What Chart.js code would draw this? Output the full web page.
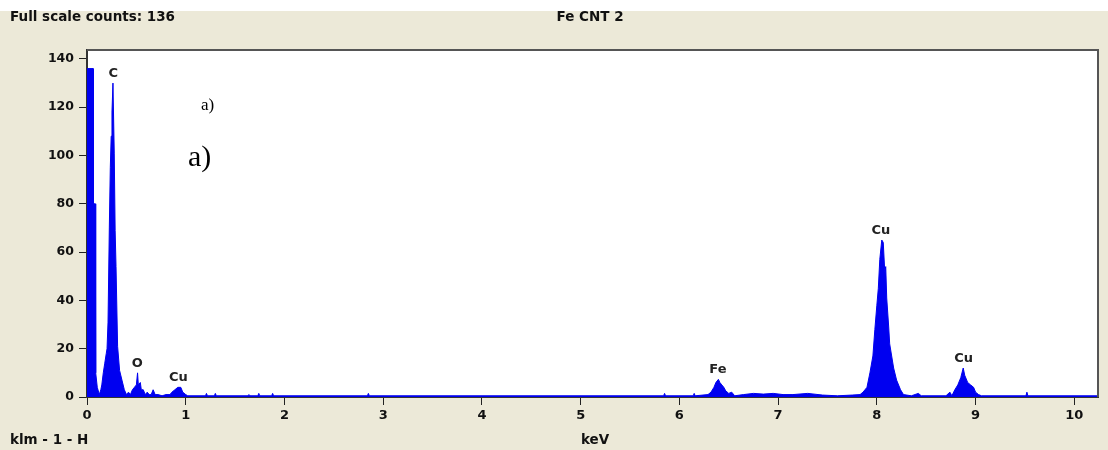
<!DOCTYPE html>
<html>
<head>
<meta charset="utf-8">
<script src="https://cdn.jsdelivr.net/npm/chart.js@4.4.0/dist/chart.umd.min.js"></script>
<style>
  html, body { margin: 0; padding: 0; background: #ece9d8; }
  canvas { display: block; }
</style>
</head>
<body>
<canvas id="eds" width="1108" height="450"></canvas>
<script>
// spectrum: energy (keV) and counts
const energies = [
  0.00, 0.061, 0.065, 0.084, 0.088, 0.104, 0.125, 0.14, 0.15, 0.165, 0.18, 0.195,
  0.203, 0.213, 0.226, 0.236, 0.245, 0.253, 0.263, 0.276, 0.285, 0.294, 0.31, 0.33,
  0.354, 0.378, 0.40, 0.42, 0.44, 0.46, 0.48, 0.50, 0.512, 0.52, 0.54, 0.55,
  0.57, 0.59, 0.61, 0.63, 0.65, 0.67, 0.69, 0.72, 0.76, 0.80, 0.84, 0.86,
  0.89, 0.92, 0.95, 0.97, 1.00, 1.02, 1.20, 1.21, 1.22, 1.29, 1.30, 1.31,
  1.63, 1.64, 1.65, 1.73, 1.74, 1.75, 1.87, 1.88, 1.89, 2.84, 2.85, 2.86,
  5.84, 5.85, 5.86, 6.14, 6.15, 6.16, 6.29, 6.32, 6.35, 6.37, 6.395, 6.41,
  6.43, 6.45, 6.47, 6.50, 6.53, 6.56, 6.65, 6.75, 6.85, 6.95, 7.05, 7.15,
  7.30, 7.45, 7.60, 7.75, 7.83, 7.86, 7.90, 7.93, 7.96, 7.98, 8.00, 8.015,
  8.03, 8.05, 8.065, 8.08, 8.09, 8.10, 8.12, 8.13, 8.17, 8.20, 8.24, 8.27,
  8.35, 8.42, 8.45, 8.70, 8.74, 8.76, 8.79, 8.82, 8.85, 8.875, 8.89, 8.92,
  8.95, 8.98, 9.00, 9.03, 9.06, 9.51, 9.52, 9.53, 10.24
];
const counts = [
  136, 136, 80, 80, 10, 4, 1, 3, 5, 10, 14, 18,
  20, 31, 70, 95, 108, 118, 130, 101, 69, 54, 21, 11,
  7, 3, 1, 2, 1, 3, 4, 5, 10, 5, 6, 3,
  3, 1, 2, 1, 1, 3, 1, 1, 0.5, 1, 1, 2,
  3, 4, 4, 2, 1, 0.5, 0.5, 1.5, 0.5, 0.5, 1.5, 0.5,
  0.5, 1, 0.5, 0.5, 1.5, 0.5, 0.5, 1.5, 0.5, 0.5, 1.5, 0.5,
  0.5, 1.5, 0.5, 0.5, 1.5, 0.5, 1, 2, 4, 6, 7.3, 6,
  5, 4, 2.5, 1.5, 2, 0.5, 1, 1.5, 1.2, 1.5, 1, 1,
  1.5, 0.8, 0.5, 0.8, 1, 2, 4, 10, 17, 28, 38, 45,
  57, 65, 64, 52, 54, 41, 29, 22, 12, 7, 3, 1,
  0.5, 1.5, 0.5, 0.5, 2, 0.5, 3, 5, 8, 12, 9, 6,
  5, 4, 2, 1, 0.5, 0.5, 2, 0.5, 0.5
];

// peak labels
const peakNames = ['C', 'O', 'Cu', 'Fe', 'Cu', 'Cu'];
const peakKeV = [0.265, 0.51, 0.925, 6.39, 8.04, 8.88];
const peakTop = [130, 10, 4, 7.3, 65, 12];

const xTicks = [0, 1, 2, 3, 4, 5, 6, 7, 8, 9, 10];
const yTicks = [0, 20, 40, 60, 80, 100, 120, 140];

const points = energies.map((e, i) => ({ x: e, y: counts[i] }));

const uiFont = '"DejaVu Sans", Tahoma, sans-serif';

const frame = {
  id: 'frame',
  beforeDraw(chart) {
    const c = chart.ctx, a = chart.chartArea;
    c.save();
    c.fillStyle = '#ffffff';
    c.fillRect(0, 0, chart.width, 11);
    c.fillStyle = '#ece9d8';
    c.fillRect(0, 11, chart.width, chart.height - 11);
    c.fillStyle = '#ffffff';
    c.fillRect(a.left, a.top, a.right - a.left, a.bottom - a.top);
    c.restore();
  },
  afterDraw(chart) {
    const c = chart.ctx, a = chart.chartArea;
    const xs = chart.scales.x, ys = chart.scales.y;
    c.save();
    // plot frame top/right
    c.strokeStyle = '#555555';
    c.lineWidth = 2;
    c.beginPath();
    c.moveTo(a.left, a.top);
    c.lineTo(a.right, a.top);
    c.lineTo(a.right, a.bottom);
    c.stroke();

    c.fillStyle = '#111111';
    c.font = 'bold 13.5px ' + uiFont;
    c.textBaseline = 'middle';
    c.textAlign = 'left';
    c.fillText('Full scale counts: 136', 10, 17);
    c.fillText('klm - 1 - H', 10, 440);
    c.textAlign = 'center';
    c.fillText('Fe CNT 2', 590, 17);
    c.fillText('keV', 595, 440);

    // element labels
    c.font = 'bold 13px ' + uiFont;
    c.fillStyle = '#222222';
    c.textBaseline = 'alphabetic';
    peakNames.forEach((n, i) => {
      c.fillText(n, xs.getPixelForValue(peakKeV[i]), ys.getPixelForValue(peakTop[i]) - 6);
    });

    // panel marks
    c.fillStyle = '#000000';
    c.textAlign = 'left';
    c.textBaseline = 'middle';
    c.font = '17px "Liberation Serif", serif';
    c.fillText('a)', 201, 106);
    c.font = '30px "Liberation Serif", serif';
    c.fillText('a)', 188, 158);
    c.restore();
  }
};

new Chart(document.getElementById('eds'), {
  type: 'line',
  data: {
    datasets: [{
      data: points,
      borderColor: 'rgb(0, 0, 240)',
      backgroundColor: 'rgb(0, 0, 240)',
      borderWidth: 1,
      fill: 'origin',
      pointRadius: 0,
      tension: 0
    }]
  },
  plugins: [frame],
  options: {
    responsive: false,
    animation: false,
    devicePixelRatio: 1,
    layout: { padding: { top: 50, right: 10, left: 0, bottom: 0 } },
    plugins: { legend: { display: false }, tooltip: { enabled: false } },
    scales: {
      x: {
        type: 'linear',
        min: 0,
        max: 10.24,
        afterBuildTicks: (s) => { s.ticks = xTicks.map(v => ({ value: v })); },
        afterFit: (s) => { s.height = 53; },
        ticks: {
          color: '#111111',
          padding: 3,
          maxRotation: 0,
          font: { family: uiFont, size: 13, weight: 'bold' }
        },
        grid: { drawOnChartArea: false, tickLength: 8, color: '#222222' },
        border: { color: '#333333', width: 2 }
      },
      y: {
        type: 'linear',
        min: 0,
        max: 143.7,
        afterBuildTicks: (s) => { s.ticks = yTicks.map(v => ({ value: v })); },
        afterFit: (s) => { s.width = 87; },
        ticks: {
          color: '#111111',
          padding: 5,
          font: { family: uiFont, size: 12.5, weight: 'bold' }
        },
        grid: { drawOnChartArea: false, tickLength: 8, color: '#222222' },
        border: { color: '#333333', width: 2 }
      }
    }
  }
});
</script>
</body>
</html>
